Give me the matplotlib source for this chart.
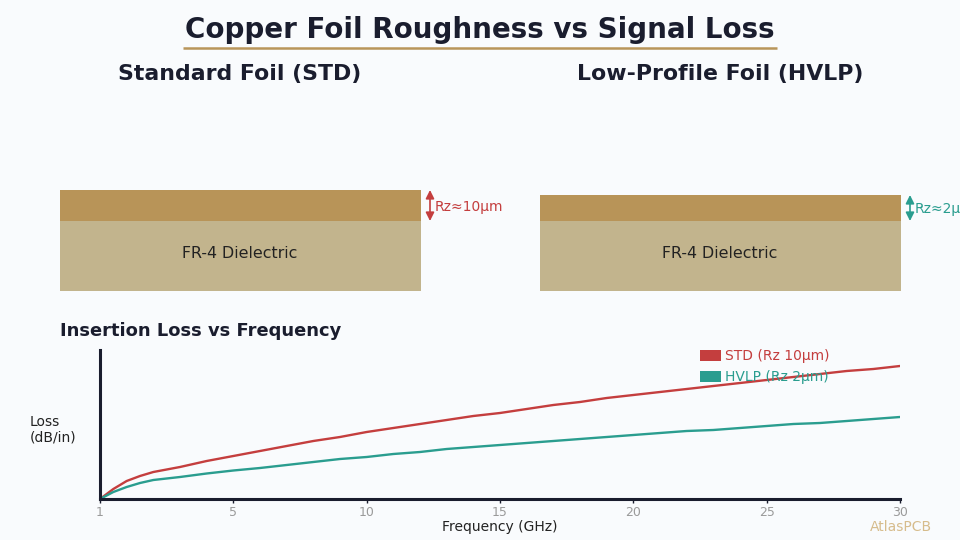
import matplotlib
matplotlib.use("Agg")
import matplotlib.pyplot as plt
from matplotlib.patches import Rectangle, Patch

# ---- data ----
freq_ghz = [0, 0.5, 1, 1.5, 2, 3, 4, 5, 6, 7, 8, 9, 10,
            11, 12, 13, 14, 15, 16, 17, 18, 19, 20,
            21, 22, 23, 24, 25, 26, 27, 28, 29, 30]
loss_std = [0.00, 0.10, 0.18, 0.23, 0.27, 0.32, 0.38, 0.43, 0.48, 0.53, 0.58, 0.62, 0.67,
            0.71, 0.75, 0.79, 0.83, 0.86, 0.90, 0.94, 0.97, 1.01, 1.04,
            1.07, 1.10, 1.13, 1.16, 1.19, 1.22, 1.25, 1.28, 1.30, 1.33]
loss_hvlp = [0.00, 0.07, 0.12, 0.16, 0.19, 0.22, 0.255, 0.285, 0.31, 0.34, 0.37, 0.40, 0.42,
             0.45, 0.47, 0.50, 0.52, 0.54, 0.56, 0.58, 0.60, 0.62, 0.64,
             0.66, 0.68, 0.69, 0.71, 0.73, 0.75, 0.76, 0.78, 0.80, 0.82]
x_tick_pos = [0, 5, 10, 15, 20, 25, 30]
x_tick_labels = ["1", "5", "10", "15", "20", "25", "30"]
series_labels = ["STD (Rz 10μm)", "HVLP (Rz 2μm)"]
panel_titles = ["Standard Foil (STD)", "Low-Profile Foil (HVLP)"]
rz_labels = ["Rz≈10μm", "Rz≈2μm"]

BG = "#f9fbfd"
DARK = "#1a1d2e"
GOLD = "#b8955a"
COPPER = "#b89458"
DIEL = "#c2b48d"
RED = "#c43e3e"
TEAL = "#2a9d8f"

fig = plt.figure(figsize=(9.6, 5.4), dpi=100)
fig.patch.set_facecolor(BG)

# overlay axes in pixel coordinates
ov = fig.add_axes([0, 0, 1, 1])
ov.set_xlim(0, 960)
ov.set_ylim(540, 0)
ov.axis("off")
ov.patch.set_alpha(0)

# Title
ov.text(480, 30, "Copper Foil Roughness vs Signal Loss", ha="center", va="center",
        fontsize=20, fontweight="bold", color=DARK)
ov.plot([183, 777], [48, 48], color=GOLD, lw=1.8, solid_capstyle="butt")

# Panel titles
ov.text(240, 74, panel_titles[0], ha="center", va="center", fontsize=15.8,
        fontweight="bold", color=DARK)
ov.text(720, 74, panel_titles[1], ha="center", va="center", fontsize=15.8,
        fontweight="bold", color=DARK)

# Foil diagrams
def foil(x0, top, rz_label, col):
    ov.add_patch(Rectangle((x0, 221), 361, 70, facecolor=DIEL, edgecolor="none"))
    ov.add_patch(Rectangle((x0, top), 361, 221 - top, facecolor=COPPER, edgecolor="none"))
    ov.text(x0 + 180, 254, "FR-4 Dielectric", ha="center", va="center",
            fontsize=11.4, color="#222222")
    ax_x = x0 + 370
    ov.annotate("", xy=(ax_x, top), xytext=(ax_x, 221),
                arrowprops=dict(arrowstyle="<|-|>,head_length=0.5,head_width=0.25",
                                color=col, lw=1.2, shrinkA=0, shrinkB=0))
    ov.text(ax_x + 5, (top + 221) / 2 + 1, rz_label, ha="left", va="center",
            fontsize=10, color=col, clip_on=False)

foil(60, 190, rz_labels[0], RED)
foil(540, 195, rz_labels[1], TEAL)

# Section heading
ov.text(60, 331, "Insertion Loss vs Frequency", ha="left", va="center",
        fontsize=12.9, fontweight="bold", color=DARK)

# Y label
ov.text(30, 430, "Loss\n(dB/in)", ha="left", va="center", fontsize=10,
        color="#222222", linespacing=1.1)

# Watermark
ov.text(932, 527, "AtlasPCB", ha="right", va="center", fontsize=10,
        color="#d6bc8c")

# Plot axes
ax = fig.add_axes([100 / 960, 41 / 540, 800 / 960, 149 / 540])
ax.set_facecolor("none")
ax.plot(freq_ghz, loss_std, color=RED, lw=1.7)
ax.plot(freq_ghz, loss_hvlp, color=TEAL, lw=1.7)
ax.set_xlim(0, 30)
ax.set_ylim(0, 1.49)
for s in ["top", "right"]:
    ax.spines[s].set_visible(False)
for s in ["left", "bottom"]:
    ax.spines[s].set_color(DARK)
    ax.spines[s].set_linewidth(2.2)
ax.set_yticks([])
ax.set_xticks(x_tick_pos)
ax.set_xticklabels(x_tick_labels)
ax.tick_params(axis="x", colors=DARK, labelcolor="#9a9a9a", labelsize=9,
               length=3, width=1, pad=2)
ax.set_xlabel("Frequency (GHz)", fontsize=10, color="#222222", labelpad=1)

handles = [Patch(facecolor=RED, edgecolor="none"), Patch(facecolor=TEAL, edgecolor="none")]
leg = ax.legend(handles, series_labels, loc="upper left", bbox_to_anchor=(0.734, 1.09),
                frameon=False, fontsize=10, handlelength=1.5, handleheight=0.8,
                handletextpad=0.3, labelspacing=0.5)
for t, c in zip(leg.get_texts(), [RED, TEAL]):
    t.set_color(c)

fig.savefig("out.png", dpi=100, facecolor=BG)
